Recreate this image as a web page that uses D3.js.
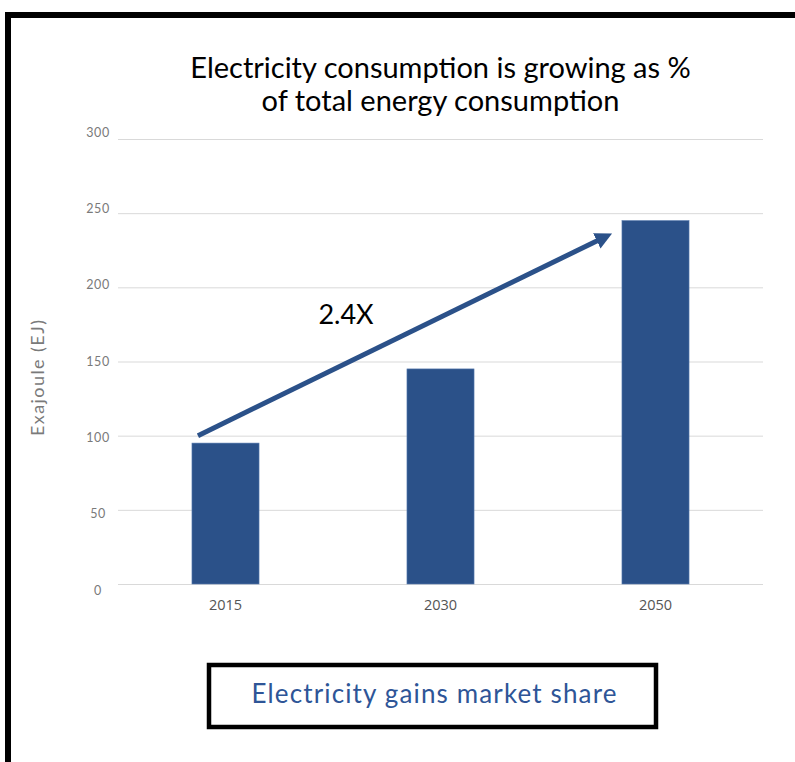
<!DOCTYPE html>
<html>
<head>
<meta charset="utf-8">
<script src="https://cdn.jsdelivr.net/npm/d3@7"></script>
<style>
  body { margin: 0; background: #fff; }
  svg { display: block; }
</style>
</head>
<body>
<div id="container"></div>
<script>
/* CONSTANTS AND GLOBALS */
const width = 795,
  height = 762,
  margin = { top: 139, bottom: 178, left: 118, right: 32 }

/* DATA */
const years = ["2015", "2030", "2050"]
const consumption = [95, 145, 245]
const yTicks = [0, 50, 100, 150, 200, 250, 300]
const titleLines = ["Electricity consumption is growing as %", "of total energy consumption"]
const arrowFrom = { year: "2015", value: 100 }
const arrowTo = { year: "2050", value: 237 }
const growthLabel = "2.4X"
const yLabel = "Exajoule (EJ)"
const boxText = "Electricity gains market share"

const data = years.map((y, i) => ({ year: y, value: consumption[i] }))

const blue = "#2b5189"
const titleFont = "Lato, 'Noto Sans', sans-serif"
const axisFont = "'Open Sans', 'Noto Sans', sans-serif"

const svg = d3.select("#container")
  .append("svg")
  .attr("width", width)
  .attr("height", height)

// outer frame (top + left edges only)
svg.append("path")
  .attr("d", `M8,${height} L8,15 L${width + 10},15`)
  .attr("fill", "none")
  .attr("stroke", "black")
  .attr("stroke-width", 6)

//scales
const xScale = d3.scaleBand()
  .domain(years)
  .range([margin.left, width - margin.right])
  .paddingInner(0.688)
  .paddingOuter(0.344)

const yScale = d3.scaleLinear()
  .domain([0, 300])
  .range([height - margin.bottom, margin.top])

// tick labels sit a little wider than the grid in the original
const labelScale = d3.scaleLinear()
  .domain([0, 300])
  .range([590, 132])

//gridlines
const grid = svg.append("g")
  .attr("class", "grid")
  .attr("transform", `translate(${margin.left},0)`)
  .call(d3.axisLeft(yScale).tickValues(yTicks).tickSize(-(width - margin.right - margin.left)).tickFormat(""))
grid.select(".domain").remove()
grid.selectAll("line").attr("stroke", "#d9d9d9").attr("stroke-width", 1)

//y labels
const yAxis = svg.append("g")
  .attr("class", "y-axis")
  .attr("transform", `translate(98,0)`)
  .call(d3.axisLeft(labelScale).tickValues(yTicks).tickSize(0).tickPadding(0))
yAxis.select(".domain").remove()
yAxis.selectAll("text")
  .attr("text-anchor", "middle")
  .attr("fill", "#7a7a7a")
  .style("font-family", titleFont)
  .style("font-size", "12.5px")
  .style("letter-spacing", "0.6px")

svg.append("text")
  .attr("class", "yAxisLabel")
  .attr("transform", `translate(44,378) rotate(-90)`)
  .text(yLabel)
  .attr("fill", "#7a7a7a")
  .attr("text-anchor", "middle")
  .attr("textLength", 116)
  .attr("lengthAdjust", "spacing")
  .style("font-family", titleFont)
  .style("font-size", "18px")

//bars
svg.selectAll(".bar")
  .data(data)
  .join("rect")
  .attr("class", "bar")
  .attr("x", d => xScale(d.year))
  .attr("y", d => yScale(d.value))
  .attr("width", xScale.bandwidth())
  .attr("height", d => yScale(0) - yScale(d.value))
  .attr("fill", blue)
  .attr("stroke", "#5a7db0")
  .attr("stroke-width", 0.6)

//x labels
const xAxis = svg.append("g")
  .attr("class", "x-axis")
  .attr("transform", `translate(0,${height - margin.bottom})`)
  .call(d3.axisBottom(xScale).tickSize(0).tickPadding(16))
xAxis.select(".domain").remove()
xAxis.selectAll("text")
  .attr("fill", "#555")
  .style("font-family", axisFont)
  .style("font-size", "14.5px")

//arrow
const defs = svg.append("defs")
defs.append("marker")
  .attr("id", "head")
  .attr("viewBox", "0 0 10 10")
  .attr("refX", 6)
  .attr("refY", 5)
  .attr("markerWidth", 3.4)
  .attr("markerHeight", 3.4)
  .attr("orient", "auto")
  .append("path")
  .attr("d", "M0,0 L10,5 L0,10 Z")
  .attr("fill", blue)

svg.append("line")
  .attr("x1", xScale(arrowFrom.year) + 6)
  .attr("y1", yScale(arrowFrom.value))
  .attr("x2", xScale(arrowTo.year) - 16)
  .attr("y2", yScale(arrowTo.value) + 4)
  .attr("stroke", blue)
  .attr("stroke-width", 5)
  .attr("marker-end", "url(#head)")

svg.append("text")
  .attr("x", 346)
  .attr("y", yScale(175))
  .text(growthLabel)
  .attr("text-anchor", "middle")
  .attr("fill", "black")
  .style("font-family", titleFont)
  .style("font-size", "27px")

//title
svg.append("text")
  .attr("class", "title")
  .attr("text-anchor", "middle")
  .attr("fill", "black")
  .style("font-family", titleFont)
  .style("font-size", "29px")
  .selectAll("tspan")
  .data(titleLines)
  .join("tspan")
  .attr("x", (margin.left + width - margin.right) / 2)
  .attr("y", (d, i) => 78 + i * 33)
  .text(d => d)

//bottom box
svg.append("rect")
  .attr("x", 209)
  .attr("y", 665)
  .attr("width", 447)
  .attr("height", 62)
  .attr("fill", "white")
  .attr("stroke", "black")
  .attr("stroke-width", 4.5)

svg.append("text")
  .attr("x", 434)
  .attr("y", 703)
  .text(boxText)
  .attr("text-anchor", "middle")
  .attr("fill", "#2e5597")
  .attr("textLength", 365)
  .attr("lengthAdjust", "spacing")
  .style("font-family", titleFont)
  .style("font-size", "26px")
</script>
</body>
</html>
